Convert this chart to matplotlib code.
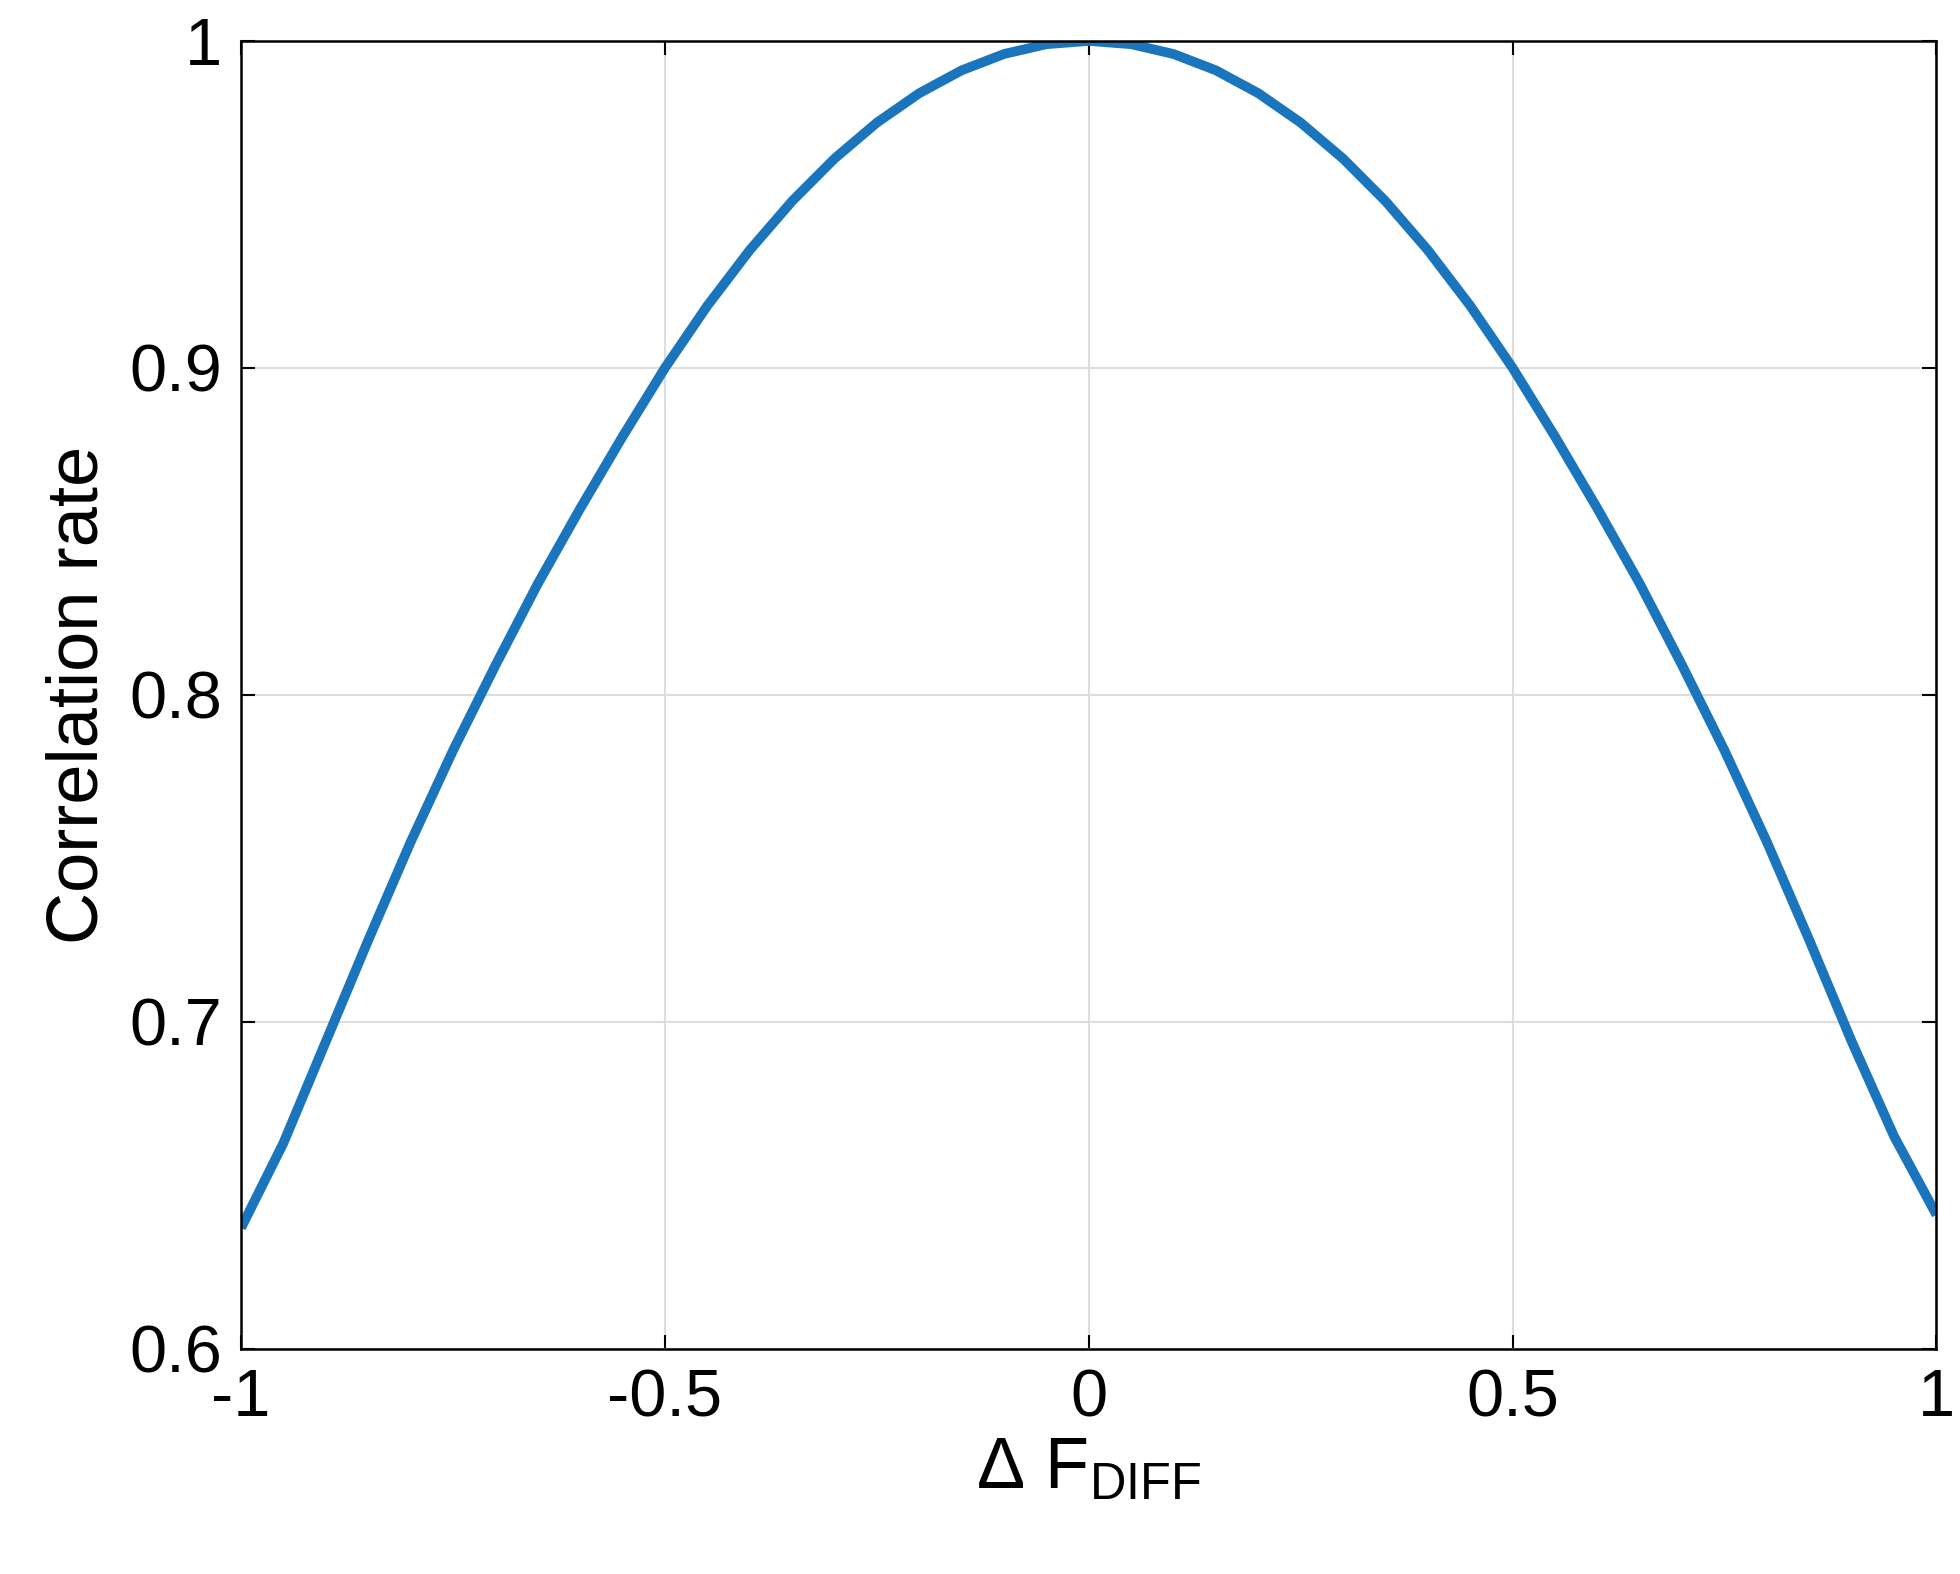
import matplotlib.pyplot as plt

plt.rcParams['font.family'] = ['Liberation Sans', 'DejaVu Sans']
plt.rcParams['mathtext.fontset'] = 'custom'
plt.rcParams['mathtext.rm'] = 'Liberation Sans'

# values
dF = [-1.0, -0.95, -0.9, -0.85, -0.8, -0.75, -0.7, -0.65, -0.6, -0.55, -0.5,
      -0.45, -0.4, -0.35, -0.3, -0.25, -0.2, -0.15, -0.1, -0.05, 0.0,
      0.05, 0.1, 0.15, 0.2, 0.25, 0.3, 0.35, 0.4, 0.45, 0.5,
      0.55, 0.6, 0.65, 0.7, 0.75, 0.8, 0.85, 0.9, 0.95, 1.0]
corr = [0.637, 0.663, 0.694, 0.725, 0.755, 0.783, 0.809, 0.834, 0.857, 0.879, 0.9,
        0.919, 0.936, 0.951, 0.964, 0.975, 0.984, 0.991, 0.996, 0.999, 1.0,
        0.999, 0.996, 0.991, 0.984, 0.975, 0.964, 0.951, 0.936, 0.919, 0.9,
        0.879, 0.857, 0.834, 0.809, 0.783, 0.755, 0.725, 0.694, 0.665, 0.641]

fig = plt.figure(figsize=(19.6, 15.74), dpi=100)
ax = fig.add_axes([0.123, 0.143, 0.865, 0.831])
ax.plot(dF, corr, color='#1a75bc', lw=7, solid_capstyle='butt')
ax.set_xlim(-1, 1)
ax.set_ylim(0.6, 1)
ax.set_xticks([-1, -0.5, 0, 0.5, 1])
ax.set_xticklabels(['-1', '-0.5', '0', '0.5', '1'])
ax.set_yticks([0.6, 0.7, 0.8, 0.9, 1])
ax.set_yticklabels(['0.6', '0.7', '0.8', '0.9', '1'])
ax.grid(True, color='#dddddd', lw=1.5)
ax.tick_params(direction='in', top=True, right=True, labelsize=48, length=10, width=1.5, pad=14)
for s in ax.spines.values():
    s.set_linewidth(1.8)
ax.set_xlabel(r'Δ F$_{\mathrm{DIFF}}$', fontsize=52, labelpad=4)
ax.set_ylabel('Correlation rate', fontsize=52, labelpad=12)

fig.savefig('out.png')
